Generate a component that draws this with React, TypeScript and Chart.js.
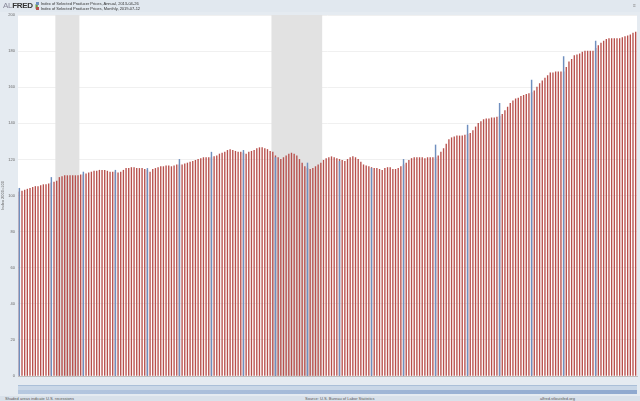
import React, { useEffect, useRef } from "react";
import { Chart, registerables } from "chart.js";

Chart.register(...registerables);

// Monthly series (red), Jan 2000 .. Apr 2019
const monthlyByYear: number[][] = [
  [102, 102.5, 103, 103.5, 104, 104.5, 105, 105, 105.5, 106, 106, 106.5],
  [107, 107.5, 108, 110, 110.5, 111, 111, 111, 111, 111, 111, 111.5],
  [111.5, 112, 112.5, 113, 113.5, 113.5, 114, 114, 114, 113.5, 113, 113],
  [113, 112.5, 113, 114, 115, 115, 115.5, 115.5, 115, 115, 115, 114.5],
  [114, 113, 114.5, 115, 115.5, 116, 116, 116.5, 116.5, 116, 116.5, 117],
  [117, 117, 117.5, 118, 118.5, 119, 119.5, 120, 120.5, 121, 121, 121],
  [121, 121.5, 122, 123, 123.5, 124, 125, 125.5, 125, 124.5, 124, 124],
  [123.5, 123, 124, 124.5, 125, 126, 126.5, 126.5, 126, 125.5, 124.5, 124],
  [122, 121, 120, 121, 122, 123, 123.5, 123, 122, 120, 118, 116],
  [115, 114.5, 115, 116, 117, 118, 119.5, 120.5, 121, 121.5, 121, 120.5],
  [120, 119.5, 119, 120, 121, 121.5, 121, 120, 118.5, 117, 116.5, 116],
  [115.5, 115, 115, 114.5, 114, 115, 115.5, 115.5, 114.5, 114.5, 115, 116],
  [117, 118, 119.5, 120.5, 121, 121, 121, 121, 120.5, 121, 121, 121],
  [121, 122, 124, 126, 128.5, 131, 132, 132.5, 133, 133, 133, 133.5],
  [134, 134.5, 136, 138, 140, 141, 142, 142.5, 142.5, 143, 143, 143.5],
  [144, 145, 147, 149, 151, 152.5, 153.5, 154, 155, 155.5, 156, 156.5],
  [157, 158, 160, 162, 163.5, 165, 166.5, 168, 168, 168.5, 168.5, 168.5],
  [168.5, 171, 174, 175.5, 177.5, 178, 178.5, 179.5, 180, 180, 180, 180],
  [181.5, 183, 184.5, 185.5, 186.5, 187, 187, 187, 187, 187, 187.5, 188],
  [188.5, 189, 190, 190.5],
];

// Annual series (blue), plotted at January of each year 2000..2018
const annualYears: number[] = [2000, 2001, 2002, 2003, 2004, 2005, 2006, 2007, 2008, 2009, 2010, 2011, 2012, 2013, 2014, 2015, 2016, 2017, 2018];
const annualValues: number[] = [104, 110, 113, 114, 115, 120, 124, 125, 121, 118, 119, 115, 120, 128, 139, 151, 164, 177, 185.6];

const monthNames: string[] = ["Jan", "Feb", "Mar", "Apr", "May", "Jun", "Jul", "Aug", "Sep", "Oct", "Nov", "Dec"];
const startYear = 2000;

// Recession periods [start label, end label]
const recessions: [string, string][] = [
  ["Mar 2001", "Nov 2001"],
  ["Dec 2007", "Jun 2009"],
];

const yTicks = { min: 0, max: 200, step: 20 };

const legendLabels: string[] = [
  "Index of Selected Producer Prices, Annual, 2013-04-26",
  "Index of Selected Producer Prices, Monthly, 2019-07-12",
];
const yTitle = "Index 2000=100";

const BLUE = "#6f8fbf";
const RED = "#b8504c";

export default function App() {
  const ref = useRef<HTMLCanvasElement | null>(null);

  useEffect(() => {
    document.body.style.margin = "0";
    const labels: string[] = [];
    const red: number[] = [];
    monthlyByYear.forEach((arr, yi) => {
      arr.forEach((v, mi) => {
        labels.push(`${monthNames[mi]} ${startYear + yi}`);
        red.push(v);
      });
    });
    const blue: (number | null)[] = labels.map(() => null);
    annualYears.forEach((y, i) => {
      const idx = labels.indexOf(`Jan ${y}`);
      if (idx >= 0) blue[idx] = annualValues[i];
    });

    const shade = {
      id: "shade",
      beforeDatasetsDraw(chart: any) {
        const { ctx, chartArea, scales } = chart;
        const x = scales.x;
        const half = (x.getPixelForValue(1) - x.getPixelForValue(0)) / 2;
        ctx.save();
        ctx.fillStyle = "#e2e2e2";
        recessions.forEach(([s, e]) => {
          const a = x.getPixelForValue(labels.indexOf(s)) - half;
          const b = x.getPixelForValue(labels.indexOf(e)) + half;
          ctx.fillRect(a, chartArea.top, b - a, chartArea.bottom - chartArea.top);
        });
        ctx.restore();
      },
    };

    const bg = {
      id: "bg",
      beforeDraw(chart: any) {
        const { ctx, chartArea } = chart;
        ctx.save();
        ctx.fillStyle = "#ffffff";
        ctx.fillRect(chartArea.left, chartArea.top, chartArea.right - chartArea.left, chartArea.bottom - chartArea.top);
        ctx.restore();
      },
    };

    const chart = new Chart(ref.current as HTMLCanvasElement, {
      type: "bar",
      data: {
        labels,
        datasets: [
          { label: legendLabels[0], data: blue, backgroundColor: BLUE, barThickness: 0.8, grouped: false } as any,
          { label: legendLabels[1], data: red, backgroundColor: RED, barThickness: 0.7, grouped: false } as any,
        ],
      },
      options: {
        animation: false,
        responsive: false,
        layout: { padding: { top: 15, right: 3, left: 0, bottom: 0 } },
        plugins: { legend: { display: false }, tooltip: { enabled: false } },
        scales: {
          x: {
            grid: { display: false },
            border: { color: "#c0c0c0" },
            ticks: {
              autoSkip: false,
              maxRotation: 0,
              minRotation: 0,
              padding: 2,
              font: { size: 4, family: "Liberation Sans, Arial, sans-serif" },
              color: "#666",
              callback: (_v: any, i: number) => {
                const m = i % 12;
                return i > 0 && (m === 0 || m === 6) ? labels[i] : "";
              },
            },
            afterFit: (s: any) => {
              s.height = 25;
            },
          },
          y: {
            min: yTicks.min,
            max: yTicks.max,
            grid: { color: "#f0f0f0", drawTicks: false },
            border: { display: false },
            ticks: {
              stepSize: yTicks.step,
              padding: 3,
              font: { size: 4, family: "Liberation Sans, Arial, sans-serif" },
              color: "#666",
            },
            title: {
              display: true,
              text: yTitle,
              font: { size: 4, family: "Liberation Sans, Arial, sans-serif" },
              color: "#666",
              padding: 0,
            },
            afterFit: (s: any) => {
              s.width = 18;
            },
          },
        },
      },
      plugins: [bg, shade],
    });
    return () => chart.destroy();
  }, []);

  const font = "Liberation Sans, Arial, sans-serif";
  return (
    <div style={{ position: "relative", width: 640, height: 401, background: "#e5ebf1", overflow: "hidden", fontFamily: font }}>
      <div style={{ position: "absolute", left: 0, top: 0, width: 640, height: 12, background: "#e1e8ef" }} />
      <canvas ref={ref} width={640} height={401} style={{ position: "absolute", left: 0, top: 0 }} />
      <div style={{ position: "absolute", left: 3, top: 1, fontSize: 8, lineHeight: "9px", color: "#555", letterSpacing: -0.3 }}>
        <span style={{ color: "#889" }}>AL</span>
        <b style={{ color: "#333" }}>FRED</b>
        <span style={{ color: "#6a9a3a", fontSize: 6, marginLeft: 2 }}>▮</span>
      </div>
      <div style={{ position: "absolute", left: 36, top: 1, fontSize: 4, lineHeight: "5px", color: "#333" }}>
        {legendLabels.map((t, i) => (
          <div key={i} style={{ display: "flex", alignItems: "center" }}>
            <span style={{ display: "inline-block", width: 3, height: 3, background: i === 0 ? BLUE : RED, marginRight: 2 }} />
            {t}
          </div>
        ))}
      </div>
      <div style={{ position: "absolute", right: 4, top: 2, fontSize: 5, color: "#888" }}>≡</div>
      <div style={{ position: "absolute", left: 18, top: 385, width: 619, height: 8, background: "#c9d7e7", borderTop: "1px solid #aabfd8" }}>
        <div style={{ position: "absolute", left: 0, bottom: 0, width: 619, height: 4, background: "linear-gradient(90deg, #b6c8e0, #8fa9cf)" }} />
      </div>
      <div style={{ position: "absolute", left: 0, top: 396, width: 640, height: 5, background: "#d9e1ea" }} />
      <div style={{ position: "absolute", left: 5, top: 396, fontSize: 4, color: "#555" }}>Shaded areas indicate U.S. recessions</div>
      <div style={{ position: "absolute", left: 305, top: 396, fontSize: 4, color: "#555" }}>Source: U.S. Bureau of Labor Statistics</div>
      <div style={{ position: "absolute", left: 540, top: 396, fontSize: 4, color: "#555" }}>alfred.stlouisfed.org</div>
    </div>
  );
}
